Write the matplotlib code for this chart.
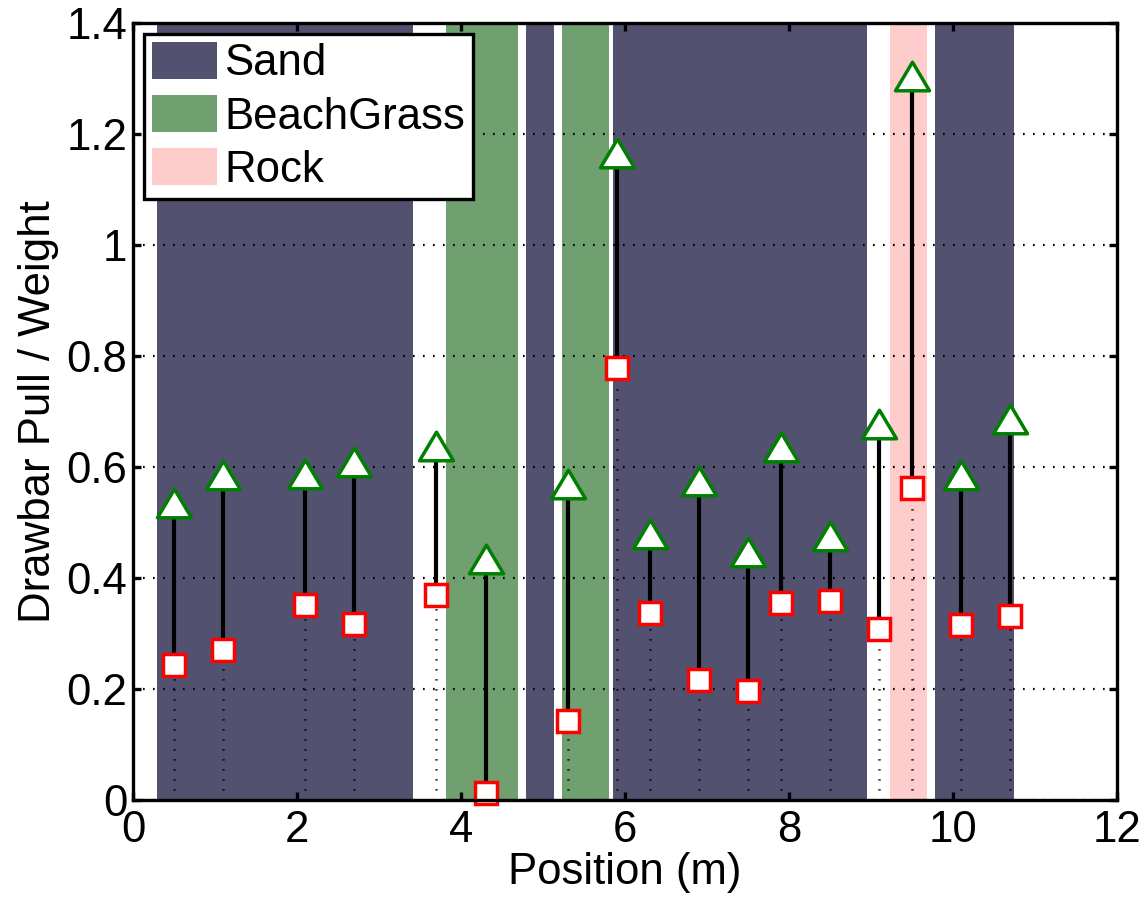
import matplotlib
matplotlib.use("Agg")
import matplotlib.pyplot as plt
from matplotlib.patches import Patch
from matplotlib.path import Path

plt.rcParams['font.family'] = ['Liberation Sans', 'DejaVu Sans']
plt.rcParams['lines.scale_dashes'] = False

# Trial positions along the transect (m)
positions = [0.5, 1.1, 2.1, 2.7, 3.7, 4.3, 5.3, 5.9, 6.3, 6.9, 7.5, 7.9, 8.5, 9.1, 9.5, 10.1, 10.7]
# Normalised drawbar pull: upper and lower measurement per trial
pull_high = [0.535, 0.586, 0.588, 0.609, 0.638, 0.435, 0.569, 1.166, 0.480, 0.575,
             0.447, 0.636, 0.476, 0.677, 1.304, 0.586, 0.686]
pull_low = [0.243, 0.270, 0.352, 0.317, 0.370, 0.013, 0.142, 0.778, 0.337, 0.217,
            0.196, 0.355, 0.359, 0.309, 0.563, 0.316, 0.331]

# Terrain segments along the transect (start, end) in metres
terrain_names = ['Sand', 'BeachGrass', 'Rock']
terrain_colors = ['#525270', '#70A070', '#FFCCCC']
sand_spans = [(0.29, 3.41), (4.79, 5.13), (5.85, 8.95), (9.78, 10.74)]
grass_spans = [(3.82, 4.69), (5.23, 5.80)]
rock_spans = [(9.23, 9.68)]
terrain_spans = [sand_spans, grass_spans, rock_spans]

x_ticks = [0, 2, 4, 6, 8, 10, 12]
y_ticks = [0, 0.2, 0.4, 0.6, 0.8, 1.0, 1.2, 1.4]
y_tick_labels = ['0', '0.2', '0.4', '0.6', '0.8', '1', '1.2', '1.4']

FS = 31.5

fig = plt.figure(figsize=(11.48, 8.99), dpi=100)
ax = fig.add_axes([0.1159, 0.1101, 0.8571, 0.8643])

for spans, color in zip(terrain_spans, terrain_colors):
    for start, end in spans:
        ax.axvspan(start, end, color=color, lw=0, zorder=1)

# dotted stems from the ground up to the lower measurement
ax.vlines(positions, 0, pull_low, colors='black', linewidth=1.8,
          linestyles=[(0, (0.9, 6.3))], zorder=2.6)
# solid connector between the two measurements
ax.vlines(positions, pull_low, pull_high, colors='black', linewidth=3.0, zorder=3)

tri = Path([(0, 0.84), (-1, -0.84), (1, -0.84), (0, 0.84)],
           [Path.MOVETO, Path.LINETO, Path.LINETO, Path.CLOSEPOLY])
ax.plot(positions, pull_high, linestyle='none', marker=tri, markersize=24.5,
        markerfacecolor='white', markeredgecolor='#008000', markeredgewidth=2.5,
        zorder=5)
ax.plot(positions, pull_low, linestyle='none', marker='s', markersize=15.5,
        markerfacecolor='white', markeredgecolor='#FF0000', markeredgewidth=2.5,
        zorder=5, clip_on=False)

ax.set_xlim(0, 12)
ax.set_ylim(0, 1.4)
ax.set_xticks(x_ticks)
ax.set_yticks(y_ticks)
ax.set_yticklabels(y_tick_labels)

ax.set_axisbelow(False)
ax.yaxis.grid(True, color='black', linewidth=1.6, linestyle=(0, (1.2, 6.0)))
ax.xaxis.grid(False)

for spine in ax.spines.values():
    spine.set_linewidth(2.4)
    spine.set_zorder(6)

ax.tick_params(axis='both', which='both', direction='in', length=6, width=2.4,
               top=True, right=True, labelsize=FS)
ax.tick_params(axis='x', pad=7)
ax.tick_params(axis='y', pad=4)

ax.set_xlabel('Position (m)', fontsize=FS, labelpad=0.8)
ax.set_ylabel('Drawbar Pull / Weight', fontsize=FS, labelpad=5.5)

handles = [Patch(facecolor=c, edgecolor='none', label=n)
           for n, c in zip(terrain_names, terrain_colors)]
leg = ax.legend(handles=handles, loc='upper left',
                bbox_to_anchor=(144 / 1148, 1 - 34 / 899),
                bbox_transform=fig.transFigure, borderaxespad=0,
                fontsize=FS, handlelength=1.48, handleheight=0.92,
                handletextpad=0.18, labelspacing=0.245, borderpad=0.18,
                fancybox=False, framealpha=1, edgecolor='black')
leg.get_frame().set_linewidth(2.4)
leg.set_zorder(10)

fig.savefig('out.png', dpi=100)
